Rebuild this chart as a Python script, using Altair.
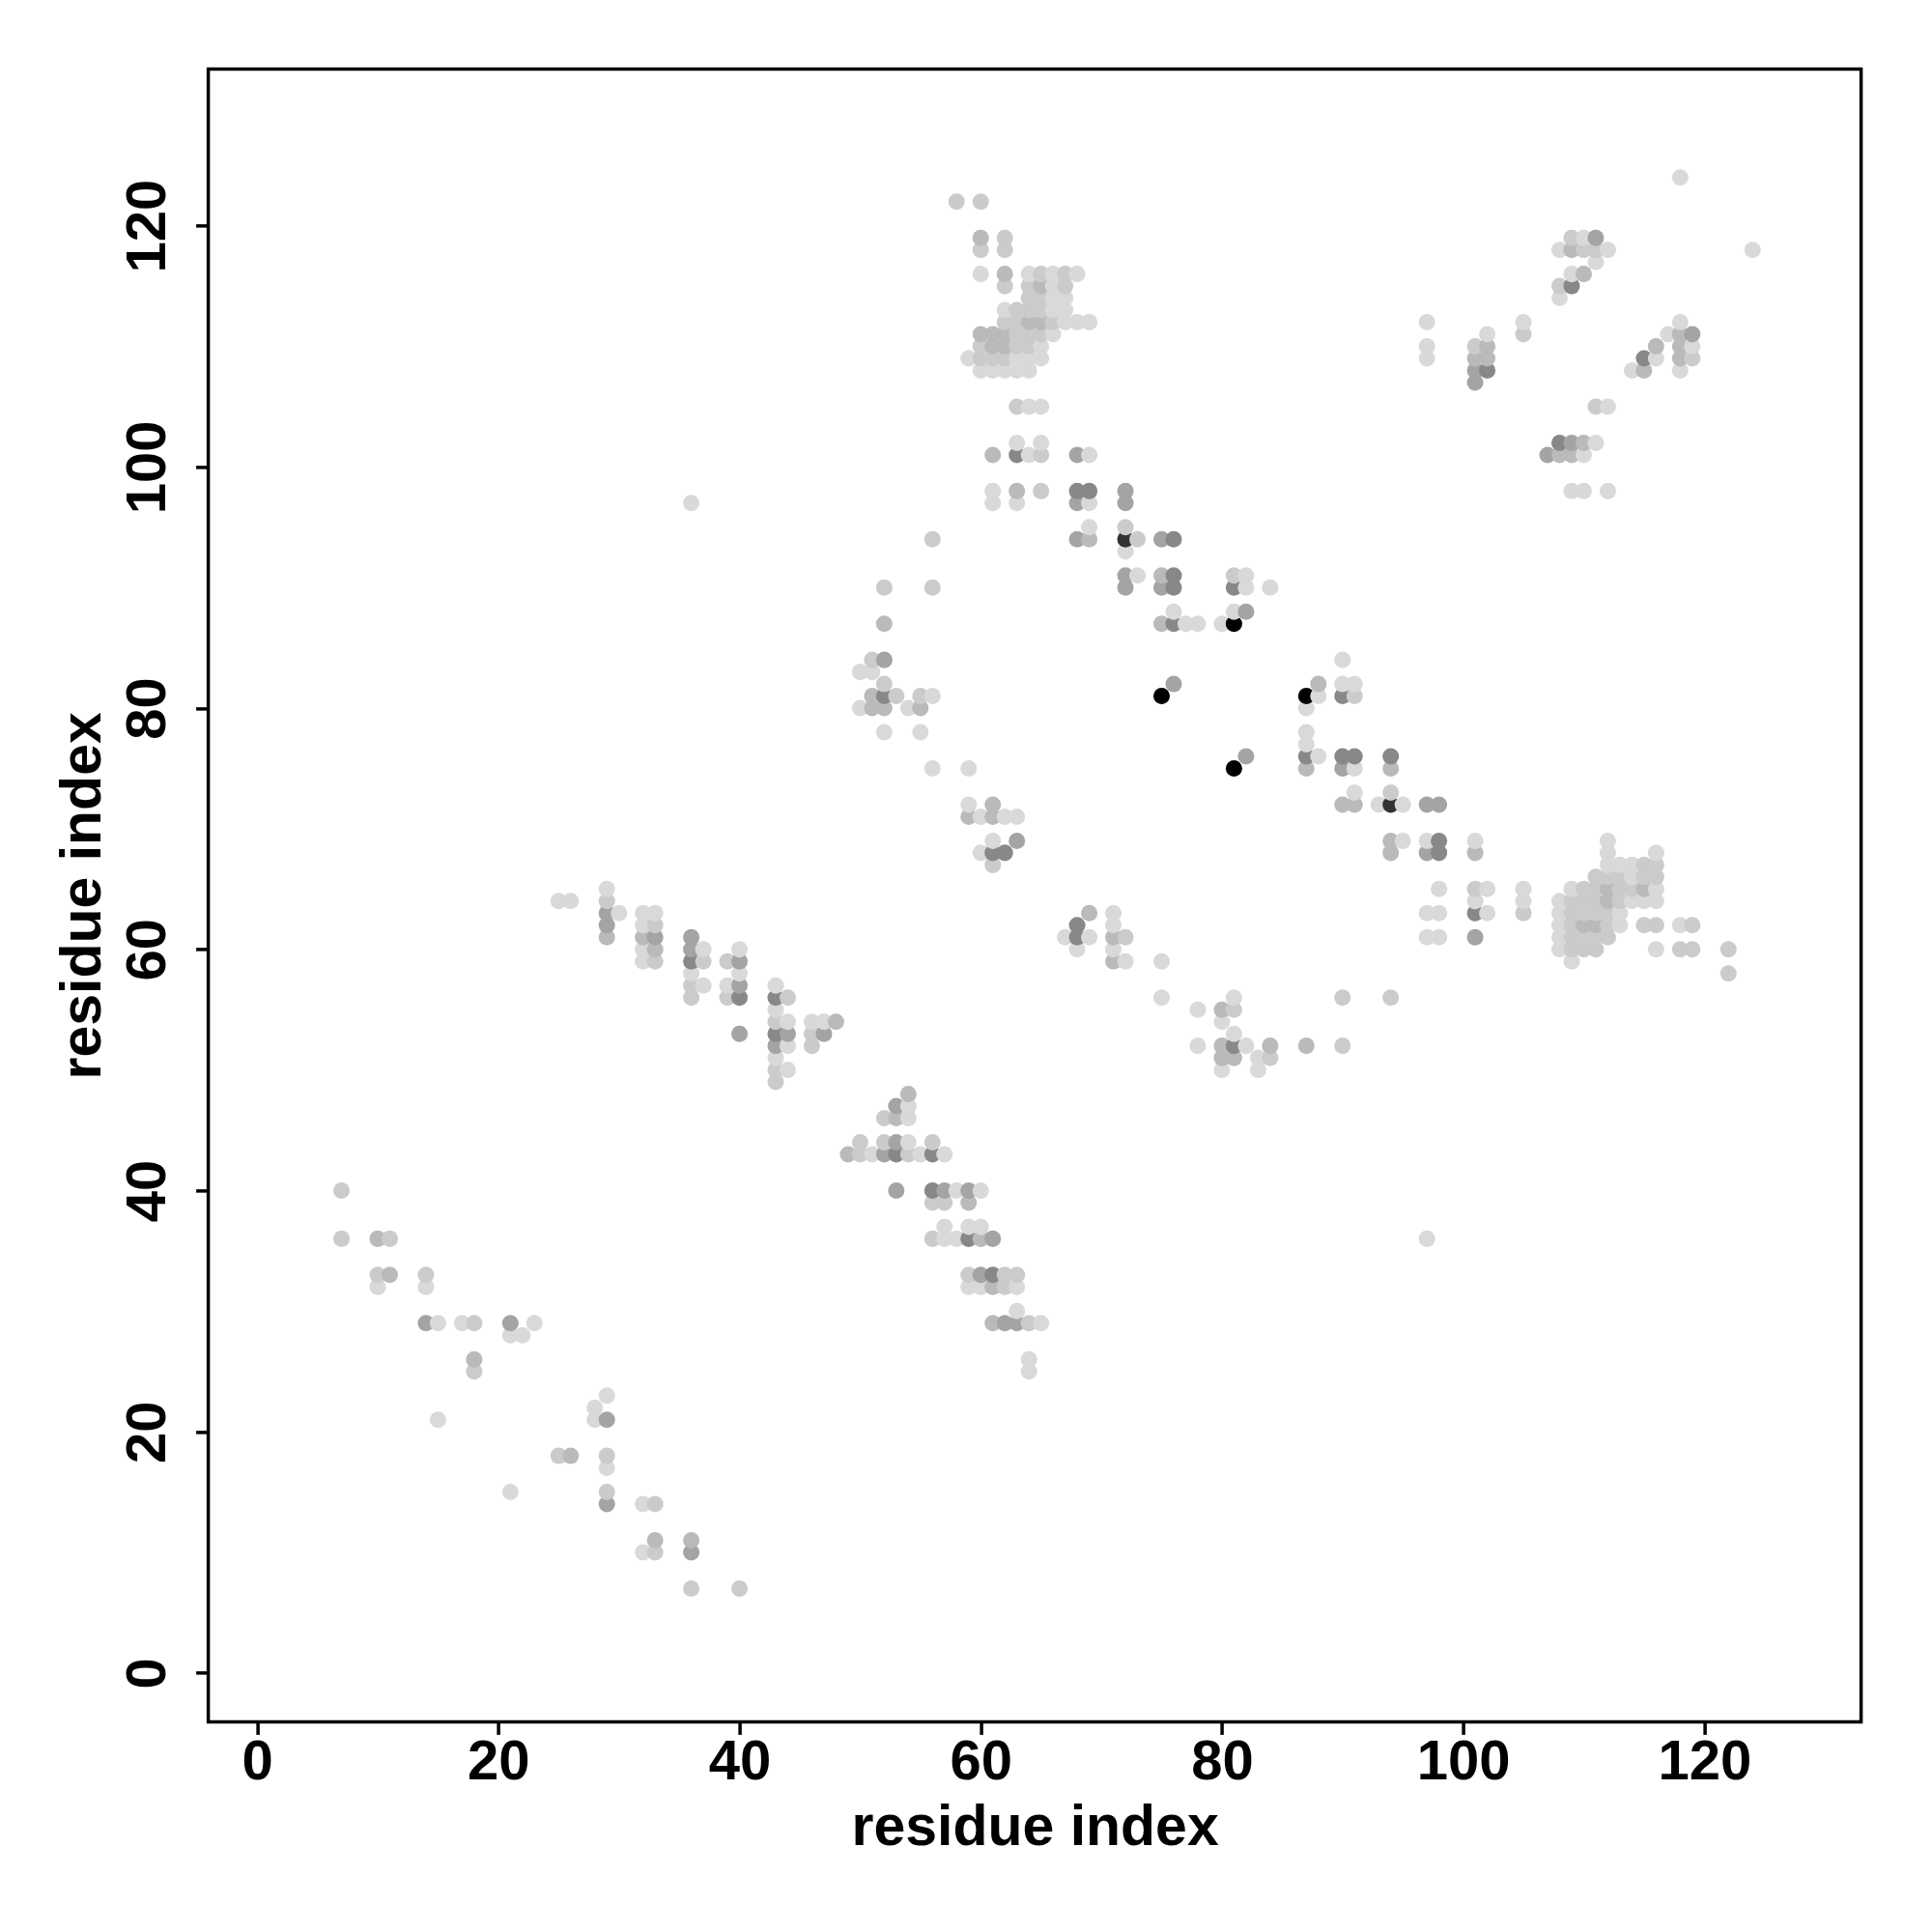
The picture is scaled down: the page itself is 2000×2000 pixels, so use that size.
import altair as alt
import pandas as pd

# contact pairs (residue i, residue j) grouped by grey level, light -> black
level1 = [(10,32),(14,32),(15,29),(17,29),(23,29),(21,28),(22,28),(15,21),(29,23),(28,22),(28,21),(29,17),(21,15),(32,14),(32,10),
          (25,64),(26,64),(29,65),(30,63),(32,63),(33,63),(32,62),(32,60),(32,59),(37,60),(36,58),(37,57),(40,60),(40,58),(39,57),
          (43,57),(43,55),(44,54),(44,52),(43,51),(44,50),(46,54),(47,54),
          (54,47),(54,46),(54,44),(51,43),(55,43),(57,43),(58,40),(60,40),(57,37),(59,37),(60,37),(57,36),(58,36),(59,32),(60,32),
          (63,32),(63,30),(65,29),(64,26),(64,25),
          (61,98),(61,97),(63,97),(50,83),(51,83),(56,81),(50,80),(54,80),(52,78),(55,78),(56,75),(59,75),(59,72),(60,71),(62,71),
          (63,71),(61,69),(60,68),
          (60,116),(64,116),(66,116),(68,116),(66,115),(66,114),(67,114),(62,113),(66,113),(67,113),(67,112),(68,112),(69,112),
          (66,111),(65,110),(59,109),(63,109),(64,109),(65,109),(60,108),(61,108),(62,108),(63,108),(64,108),(64,105),(65,105),
          (63,102),(65,102),(64,101),(69,101),
          (69,97),(69,95),(72,93),(73,91),(82,91),(82,90),(84,90),(76,88),(81,88),(77,87),(78,87),(80,87),(88,81),(87,80),(90,84),
          (90,82),(91,82),(87,78),(87,77),(88,76),(91,75),(91,73),(93,72),(95,72),(95,69),(97,69),(98,65),
          (67,61),(69,61),(68,60),(71,63),(71,62),(71,60),(72,59),(75,59),(75,56),(78,55),(81,56),(80,54),(81,53),(78,52),(82,52),
          (83,51),(80,50),(83,50),(97,63),(97,61),
          (101,69),(98,63),(98,61),(102,65),(101,64),(102,63),(105,65),(105,64),
          (112,69),(112,68),(116,68),(112,67),(113,67),(114,67),(114,66),(109,65),(116,65),(108,64),(114,64),(115,64),(116,64),
          (108,63),(113,63),(108,62),(113,62),(118,62),(108,61),(108,60),(116,60),(109,59),
          (118,124),(124,118),(110,119),(108,118),(112,118),(111,117),(109,116),(108,114),(97,112),(97,110),(97,109),(105,112),
          (102,111),(118,112),(117,111),(119,110),(116,109),(114,108),(118,108),(112,105),(111,102),(110,101),(109,98),(110,98),
          (112,98),(36,97),(97,36)]
level2 = [(7,40),(7,36),(11,36),(10,33),(14,33),(18,29),(18,25),(25,18),(29,18),(29,15),(33,14),(33,10),(36,7),(40,7),
          (29,64),(33,62),(33,59),(37,59),(36,57),(36,56),(39,59),(39,56),(44,56),(43,54),(43,50),(43,49),(46,53),(46,52),
          (52,46),(50,44),(52,44),(56,44),(50,43),(54,43),(56,39),(57,39),(56,36),(59,33),(62,33),(63,33),(62,32),(64,29),
          (65,98),(56,94),(52,90),(56,90),(51,84),(52,82),(53,81),(55,81),(61,67),
          (58,122),(60,122),(62,119),(60,118),(62,118),(62,115),(65,116),(67,116),(64,115),(67,115),(64,114),(65,114),(63,113),
          (64,113),(65,113),(62,112),(63,112),(66,112),(63,111),(64,111),(65,111),(60,110),(63,110),(64,110),(60,109),(61,109),
          (62,109),(63,105),(65,101),
          (72,95),(73,94),(81,91),(91,81),(94,73),
          (72,61),(81,55),(84,51),(90,52),(90,56),(94,56),
          (101,65),(105,63),
          (115,67),(116,67),(111,66),(112,66),(113,66),(115,66),(116,66),(110,65),(111,65),(113,65),(114,65),(109,64),(110,64),
          (111,64),(113,64),(109,63),(110,63),(111,63),(112,63),(109,62),(112,62),(115,62),(116,62),(119,62),(109,61),(110,61),
          (111,61),(112,61),(109,60),(110,60),(111,60),(118,60),(119,60),(122,60),(122,58),
          (109,119),(110,118),(111,118),(108,115),(105,111),(101,110),(119,109),(111,105)]
level3 = [(10,36),(11,33),(18,26),(26,18),(33,11),(36,11),
          (29,61),(32,61),(33,60),(48,54),
          (54,48),(53,46),(49,43),(59,39),(60,36),(61,32),(61,29),
          (63,98),(52,87),(51,81),(51,80),(52,80),(55,80),(61,72),(59,71),(61,71),
          (60,119),(62,116),(65,115),(64,112),(65,112),(60,111),(61,111),(62,111),(61,110),(62,110),(61,101),
          (69,94),(75,91),(75,87),(88,82),(87,75),(94,75),(90,72),(91,72),(94,69),(94,68),
          (69,63),(71,61),(71,59),(80,55),(80,52),(84,52),(80,51),(81,51),(87,52),
          (101,68),
          (112,65),(115,65),(112,64),(110,62),(111,62),
          (109,118),(110,116),(102,110),(101,109),(102,109),(118,111),(116,110),(118,110),(118,109),(115,108),(110,102),
          (108,101),(109,101)]
level4 = [(14,29),(21,29),(29,21),(29,14),(36,10),
          (29,63),(29,62),(33,61),(36,61),(36,60),(40,59),(40,57),(40,53),(44,53),(43,52),(47,53),
          (53,47),(53,44),(52,43),(53,40),(57,40),(59,40),(61,36),(60,33),(62,29),(63,29),
          (52,84),(63,69),(68,101),
          (68,97),(72,98),(72,97),(68,94),(75,94),(72,91),(72,90),(75,90),(82,88),(76,82),(82,76),(90,75),(97,72),(98,72),(97,68),
          (101,61),
          (111,119),(119,111),(101,108),(101,107),(109,102),(107,101)]
level5 = [(36,59),(40,56),(43,56),(43,53),
          (53,43),(56,43),(56,40),(59,36),(61,33),
          (52,81),(61,68),(62,68),(63,101),
          (68,98),(69,98),(76,94),(76,91),(76,90),(81,90),(76,87),(90,81),(87,76),(90,76),(91,76),(94,76),(98,69),(98,68),
          (68,62),(68,61),(81,52),
          (101,63),
          (109,115),(102,108),(115,109),(108,102)]
level6 = [(72,94),(94,72)]
level7 = [(81,87),(75,81),(87,81),(81,75)]

gray_levels = [1, 2, 3, 4, 5, 6, 7]
gray_colors = ["#d9d9d9", "#cbcbcb", "#bababa", "#a4a4a4", "#888888", "#333333", "#000000"]
tick_values = [0, 20, 40, 60, 80, 100, 120]
axis_domain = [-4.05, 133.0]

rows = []
for lvl, pts in zip(gray_levels, [level1, level2, level3, level4, level5, level6, level7]):
    for i, j in pts:
        rows.append({"i": i, "j": j, "level": lvl})
df = pd.DataFrame(rows).sort_values(["i", "j"]).reset_index(drop=True)

FONT = "Liberation Sans"
W = 1711
H = 1711

x_axis = alt.Axis(values=tick_values, grid=False, domain=False, ticks=True, tickColor="black", tickWidth=3.5,
                  tickSize=13, labelFont=FONT, labelFontWeight="bold", labelFontSize=58, labelColor="black",
                  labelPadding=46, labelBaseline="alphabetic", labelAlign="center", labelAngle=0,
                  labelFlush=False, labelOverlap=False, title="residue index", titleFont=FONT,
                  titleFontWeight="bold", titleFontSize=59, titleColor="black", titleBaseline="alphabetic",
                  titleY=127, titleX=W / 2, titleAlign="center")
y_axis = alt.Axis(values=tick_values, grid=False, domain=False, ticks=True, tickColor="black", tickWidth=3.5,
                  tickSize=13, labelFont=FONT, labelFontWeight="bold", labelFontSize=58, labelColor="black",
                  labelPadding=32, labelBaseline="alphabetic", labelAlign="center", labelAngle=270,
                  labelFlush=False, labelOverlap=False, title="residue index", titleFont=FONT,
                  titleFontWeight="bold", titleFontSize=59, titleColor="black", titleBaseline="alphabetic",
                  titleX=-112, titleY=H / 2, titleAngle=270, titleAlign="center")

chart = alt.Chart(df).mark_circle(size=290, opacity=1).encode(
    x=alt.X("i:Q", scale=alt.Scale(domain=axis_domain, nice=False, zero=False), axis=x_axis),
    y=alt.Y("j:Q", scale=alt.Scale(domain=axis_domain, nice=False, zero=False), axis=y_axis),
    color=alt.Color("level:O", scale=alt.Scale(domain=gray_levels, range=gray_colors), legend=None),
).properties(
    width=W, height=H,
    autosize=alt.AutoSizeParams(type="none"),
    padding={"left": 207.6, "top": 63.4, "right": 60, "bottom": 200},
    background="white",
).configure_view(stroke="black", strokeWidth=3.5)

chart.save("out.html", embed_options={"renderer": "svg", "actions": False})
